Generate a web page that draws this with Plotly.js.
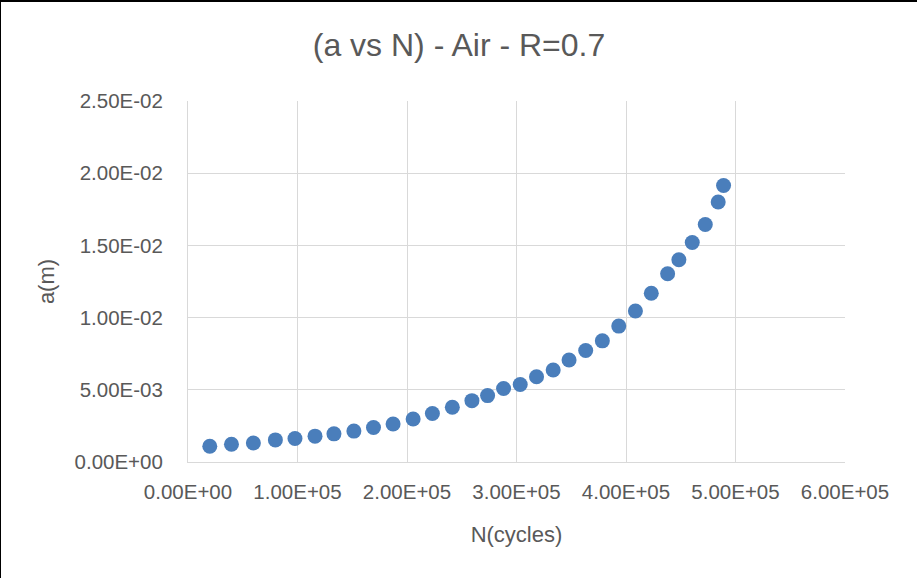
<!DOCTYPE html>
<html><head><meta charset="utf-8">
<script src="https://cdn.plot.ly/plotly-3.0.1.min.js"></script>
<style>
html,body{margin:0;padding:0;background:#fff;}
#wrap{width:916px;height:576px;border-top:2px solid #000;border-left:1px solid #000;}
#chart{width:916px;height:576px;}
</style></head><body>
<div id="wrap"><div id="chart"></div></div>
<script>
const cycles = [19900,39700,59700,79800,97700,116000,133300,151500,169400,187300,205600,223200,241400,259300,273600,288200,303400,318300,333500,348000,363200,378400,393400,408600,423100,438000,448300,460500,472400,484200,489100];
const crack = [0.00109,0.00123,0.00132,0.00153,0.00163,0.00179,0.00195,0.00214,0.00239,0.00263,0.00298,0.00336,0.00379,0.00425,0.0046,0.00509,0.00537,0.0059,0.00637,0.00706,0.00772,0.00839,0.00941,0.01046,0.01169,0.01304,0.01401,0.0152,0.01645,0.01801,0.01915];
const xTickVals = [0,100000,200000,300000,400000,500000,600000];
const xTickText = ["0.00E+00","1.00E+05","2.00E+05","3.00E+05","4.00E+05","5.00E+05","6.00E+05"];
const yTickVals = [0,0.005,0.01,0.015,0.02,0.025];
const yTickText = ["0.00E+00","5.00E-03","1.00E-02","1.50E-02","2.00E-02","2.50E-02"];

const font = "Liberation Sans, Arial, sans-serif";
Plotly.newPlot('chart', [{
  x: cycles, y: crack, type: 'scatter', mode: 'markers',
  marker: {color: '#4a7ebb', size: 15}
}], {
  width: 916, height: 576,
  margin: {l: 186.5, r: 71.5, t: 99, b: 116},
  paper_bgcolor: '#fff', plot_bgcolor: '#fff',
  showlegend: false,
  title: {text: '(a vs N) - Air - R=0.7', font: {family: font, size: 32, color: '#595959'}, x: 0.5, xanchor: 'center', y: 0.925, yanchor: 'middle'},
  xaxis: {range: [0, 600000], tickvals: xTickVals, ticktext: xTickText, showgrid: true, gridcolor: '#d9d9d9', gridwidth: 1,
    zeroline: false, showline: true, linecolor: '#d9d9d9', linewidth: 1, mirror: false, ticks: '', ticklabelstandoff: 11,
    tickfont: {family: font, size: 20.5, color: '#595959'},
    title: {text: 'N(cycles)', font: {family: font, size: 22, color: '#595959'}, standoff: 25}},
  yaxis: {range: [0, 0.025], tickvals: yTickVals, ticktext: yTickText, showgrid: true, gridcolor: '#d9d9d9', gridwidth: 1,
    zeroline: false, showline: true, linecolor: '#d9d9d9', linewidth: 1, ticks: '', ticklabelstandoff: 20,
    tickfont: {family: font, size: 20.5, color: '#595959'},
    title: {text: 'a(m)', font: {family: font, size: 22, color: '#595959'}, standoff: 13}}
}, {displayModeBar: false, staticPlot: true});
</script></body></html>
